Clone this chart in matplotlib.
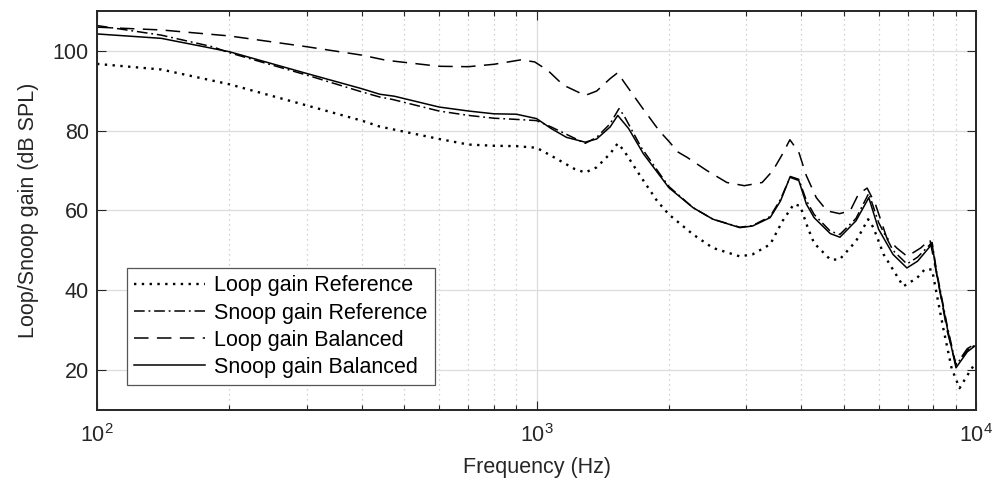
import matplotlib
matplotlib.use("Agg")
import matplotlib.pyplot as plt
from matplotlib.ticker import LogLocator, NullFormatter

# ===== DATA =====
FREQ_LOOP_REF = [100, 140, 200, 300, 400, 440, 600, 700, 800, 900, 1000, 1080, 1220, 1290, 1370,
                 1470, 1530, 1580, 1730, 1880, 2000, 2270, 2520, 2900, 3100, 3400, 3630, 3850, 3980,
                 4140, 4280, 4660, 4890, 5330, 5680, 5840, 6160, 6830, 7340, 7650, 7940, 8060, 8420,
                 8800, 9170, 9550, 10000]
GAIN_LOOP_REF = [96.7, 95.3, 91.6, 86.3, 82.5, 81.0, 77.9, 76.5, 76.2, 76.1, 75.7, 73.7, 70.4, 69.5, 70.8,
                 74.2, 76.8, 75.0, 68.3, 62.4, 59.0, 54.0, 50.6, 48.5, 49.0, 51.5, 57.4, 61.6, 61.1,
                 55.7, 51.8, 47.7, 47.7, 52.3, 57.8, 55.7, 49.0, 41.0, 43.1, 45.3, 45.2, 41.4, 30.5,
                 20.4, 15.5, 18.7, 22.1]

FREQ_SNOOP_REF = [100, 140, 183, 200, 300, 400, 440, 470, 600, 700, 800, 900, 1000, 1080, 1290, 1370,
                  1470, 1540, 1580, 1730, 1920, 2000, 2270, 2520, 2900, 3100, 3400, 3590, 3780, 3950,
                  4110, 4280, 4660, 4900, 5330, 5700, 6000, 6470, 6960, 7360, 7940, 8140, 8600, 9000,
                  9550, 10000]
GAIN_SNOOP_REF = [106.3, 103.9, 101.0, 99.5, 93.9, 89.7, 88.4, 87.8, 84.9, 83.8, 83.1, 82.8, 82.5, 80.9,
                  76.8, 78.3, 81.7, 85.5, 83.8, 75.8, 68.7, 66.0, 60.7, 57.8, 55.8, 56.2, 58.5, 62.8,
                  68.5, 67.8, 62.5, 59.0, 54.8, 54.0, 58.0, 64.3, 57.0, 50.0, 46.6, 48.3, 52.0, 44.5,
                  31.0, 21.3, 25.0, 26.5]

FREQ_LOOP_BAL = [100, 140, 200, 300, 400, 455, 600, 700, 800, 920, 990, 1060, 1150, 1290, 1370, 1470,
                 1530, 1580, 1735, 1900, 2000, 2100, 2200, 2440, 2710, 2970, 3260, 3450, 3630, 3770,
                 3950, 4110, 4330, 4580, 4890, 5170, 5400, 5650, 5900, 6260, 6600, 6970, 7480, 7850,
                 8140, 8600, 9000, 9550, 10000]
GAIN_LOOP_BAL = [105.9, 105.2, 103.7, 101.0, 98.9, 97.6, 96.1, 96.0, 96.6, 97.7, 97.2, 95.1, 91.4, 88.8,
                 89.9, 93.0, 94.5, 92.2, 85.9, 80.0, 77.3, 74.6, 73.3, 70.0, 67.0, 66.2, 67.0, 70.0,
                 74.2, 77.7, 74.6, 68.7, 63.2, 59.9, 59.2, 59.9, 64.1, 65.6, 61.6, 53.2, 50.6, 48.5,
                 50.6, 52.7, 43.9, 29.7, 21.3, 25.4, 26.7]

FREQ_SNOOP_BAL = [100, 140, 200, 300, 400, 440, 475, 600, 700, 800, 900, 1000, 1080, 1170, 1290, 1370,
                  1470, 1530, 1620, 1750, 1920, 2000, 2270, 2520, 2900, 3100, 3400, 3590, 3770, 3950,
                  4110, 4280, 4660, 4900, 5330, 5700, 6000, 6470, 6960, 7360, 7940, 8140, 8600, 9000,
                  9550, 10000]
GAIN_SNOOP_BAL = [104.2, 103.1, 99.75, 94.3, 90.5, 89.1, 88.6, 85.9, 84.9, 84.2, 84.1, 83.0, 80.5, 78.3,
                  77.1, 77.9, 80.9, 83.8, 80.5, 74.2, 68.3, 65.7, 60.7, 57.8, 55.7, 56.1, 58.2, 62.4,
                  68.3, 67.5, 61.6, 58.2, 54.2, 53.3, 57.4, 63.2, 55.3, 49.0, 45.6, 47.3, 51.6, 43.9,
                  30.5, 20.6, 24.6, 26.3]

LABELS = ["Loop gain Reference", "Snoop gain Reference", "Loop gain Balanced", "Snoop gain Balanced"]
Y_TICKS = [20, 40, 60, 80, 100]

# ===== STYLE =====
AXIS_COLOR = "#262626"
FONT_SIZE = 15.5

plt.rcParams["font.family"] = ["Liberation Sans", "DejaVu Sans"]
plt.rcParams["mathtext.fontset"] = "custom"
plt.rcParams["mathtext.rm"] = "Liberation Sans"
plt.rcParams["mathtext.it"] = "Liberation Sans:italic"

fig = plt.figure(figsize=(9.95, 4.9), dpi=100)
ax = fig.add_axes([0.0975, 0.163, 0.8835, 0.815])

ax.plot(FREQ_LOOP_REF, GAIN_LOOP_REF, color="black", linewidth=1.7, linestyle=(0, (1, 2.3)), label=LABELS[0])
ax.plot(FREQ_SNOOP_REF, GAIN_SNOOP_REF, color="black", linewidth=1.1, linestyle=(0, (7, 2.5, 1.2, 2.5)), label=LABELS[1])
ax.plot(FREQ_LOOP_BAL, GAIN_LOOP_BAL, color="black", linewidth=1.1, linestyle=(0, (9.5, 5.5)), label=LABELS[2])
ax.plot(FREQ_SNOOP_BAL, GAIN_SNOOP_BAL, color="black", linewidth=1.1, linestyle="-", label=LABELS[3])

ax.set_xscale("log")
ax.set_xlim(100, 10000)
ax.set_ylim(10, 110)
ax.set_yticks(Y_TICKS)
ax.xaxis.set_minor_locator(LogLocator(base=10, subs=range(2, 10)))
ax.xaxis.set_minor_formatter(NullFormatter())

ax.grid(True, which="major", color="#dcdcdc", linewidth=0.9, linestyle="-")
ax.grid(True, which="minor", axis="x", color="#c4c4c4", linewidth=0.9, linestyle=(0, (1, 3)))
ax.set_axisbelow(True)

ax.tick_params(which="both", direction="in", top=True, right=True, colors=AXIS_COLOR,
               labelsize=FONT_SIZE, width=0.8)
ax.tick_params(axis="x", which="major", length=6.5, pad=10)
ax.tick_params(axis="x", which="minor", length=3.5)
ax.tick_params(axis="y", which="major", length=6.5, pad=6)
for spine in ax.spines.values():
    spine.set_color(AXIS_COLOR)
    spine.set_linewidth(1.4)

ax.set_xlabel("Frequency (Hz)", fontsize=FONT_SIZE, color=AXIS_COLOR, labelpad=7)
ax.set_ylabel("Loop/Snoop gain (dB SPL)", fontsize=FONT_SIZE, color=AXIS_COLOR, labelpad=10)

leg = ax.legend(loc="lower left", bbox_to_anchor=(0.034, 0.0627), borderaxespad=0, fontsize=FONT_SIZE,
                frameon=True, fancybox=False, edgecolor="#555555", framealpha=1,
                handlelength=3.3, handletextpad=0.4, labelspacing=0.28, borderpad=0.35)
leg.get_frame().set_linewidth(0.9)
for text in leg.get_texts():
    text.set_color("black")

fig.savefig("out.png", dpi=100, facecolor="white")
